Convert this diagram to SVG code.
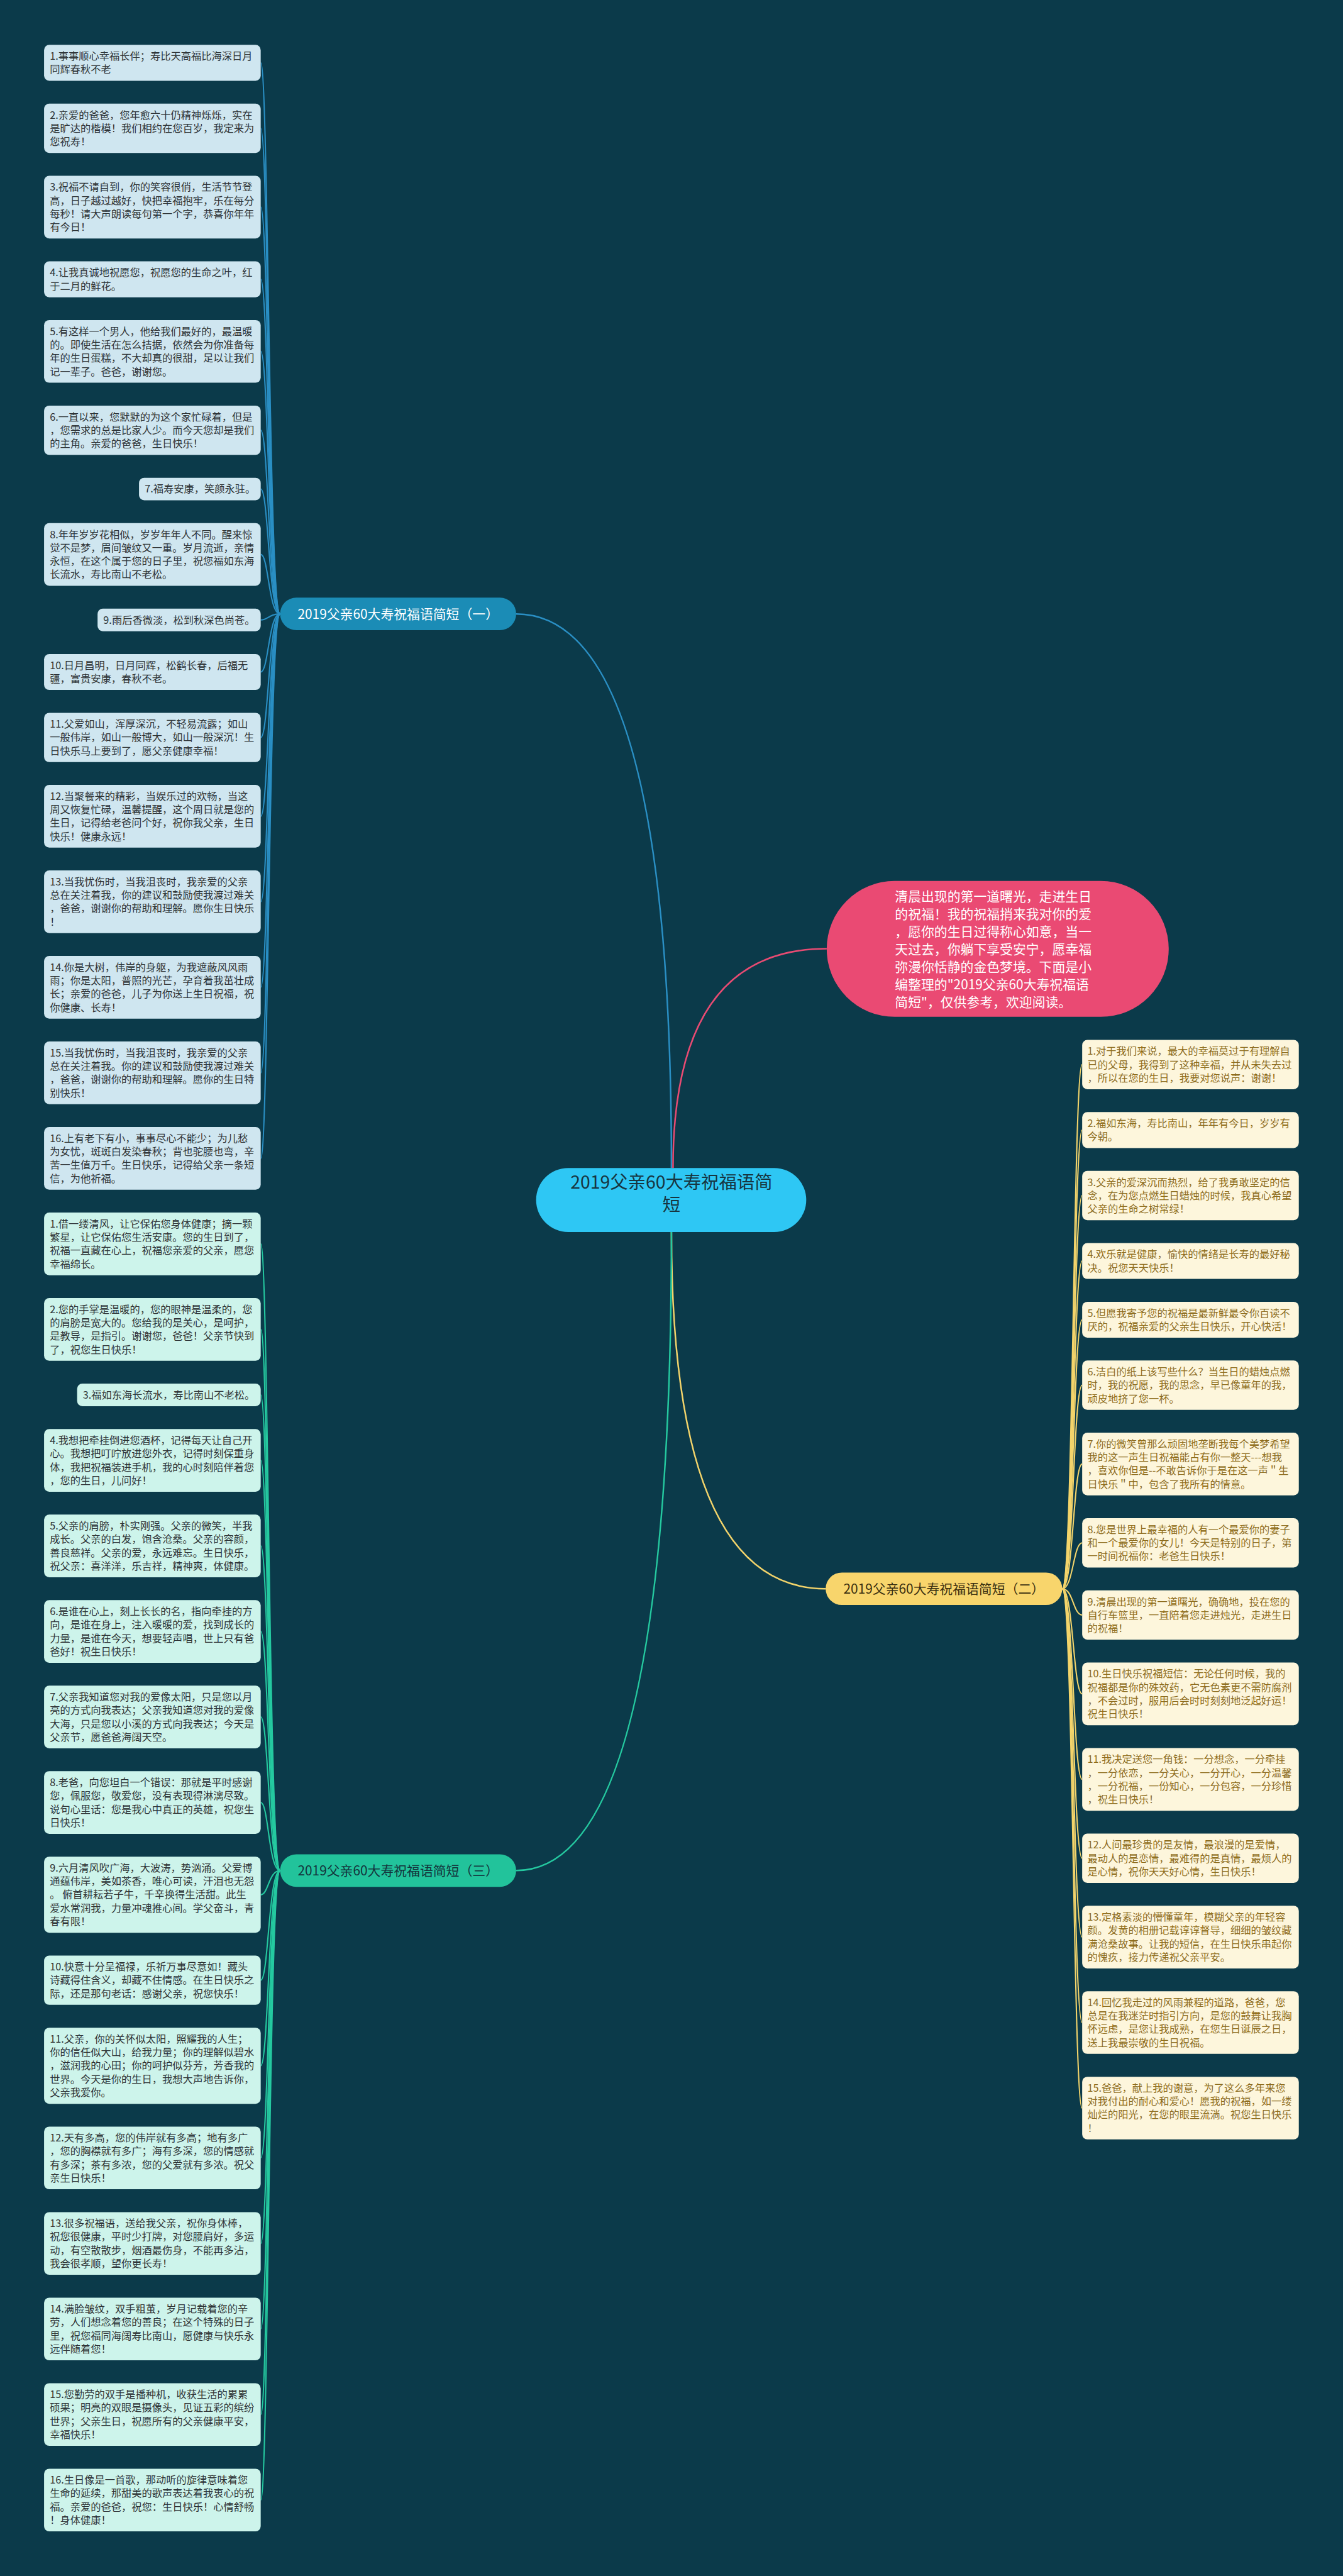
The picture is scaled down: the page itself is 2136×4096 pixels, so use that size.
<svg xmlns="http://www.w3.org/2000/svg" width="2136" height="4096" viewBox="0 0 2136 4096">
<style>
.t{font-family:"Noto Sans CJK SC","Noto Sans",sans-serif;font-size:19.5px}
.t1{fill:#2e3336}.t2{fill:#8d6c1c}.t3{fill:#2e3336}
.lf1{fill:#cfe6f0}.lf2{fill:#fdf6dc}.lf3{fill:#cdf4eb}
.c1{fill:none;stroke:#2a8fc4;stroke-width:2.5}
.c2{fill:none;stroke:#f3d46b;stroke-width:2.5}
.c3{fill:none;stroke:#25c9a0;stroke-width:2.5}
.br{font-family:"Noto Sans CJK SC","Noto Sans",sans-serif;font-size:25px;text-anchor:middle}
</style>
<rect width="2136" height="4096" fill="#0b3a4a"/>
<g transform="scale(0.8343)">
<g id="connectors">
<path d="M1280 2226 Q1280 1170 984 1170" fill="none" stroke="#2a8fc4" stroke-width="3"/>
<path d="M1283 2226 Q1283 1808 1576 1808" fill="none" stroke="#e94b73" stroke-width="3"/>
<path d="M1280 2348 Q1280 3028 1574 3028" fill="none" stroke="#f3d46b" stroke-width="3"/>
<path d="M1280 2348 Q1280 3565 984 3565" fill="none" stroke="#25c9a0" stroke-width="3"/>
<path class="c1" d="M534 1170 C512 1170,512 119.75,497 119.75"/>
<path class="c1" d="M534 1170 C512 1170,512 244.5,497 244.5"/>
<path class="c1" d="M534 1170 C512 1170,512 394.75,497 394.75"/>
<path class="c1" d="M534 1170 C512 1170,512 532.25,497 532.25"/>
<path class="c1" d="M534 1170 C512 1170,512 669.75,497 669.75"/>
<path class="c1" d="M534 1170 C512 1170,512 820,497 820"/>
<path class="c1" d="M534 1170 C512 1170,512 932,497 932"/>
<path class="c1" d="M534 1170 C512 1170,512 1056.75,497 1056.75"/>
<path class="c1" d="M534 1170 C512 1170,512 1181.5,497 1181.5"/>
<path class="c1" d="M534 1170 C512 1170,512 1280.75,497 1280.75"/>
<path class="c1" d="M534 1170 C512 1170,512 1405.5,497 1405.5"/>
<path class="c1" d="M534 1170 C512 1170,512 1555.75,497 1555.75"/>
<path class="c1" d="M534 1170 C512 1170,512 1718.75,497 1718.75"/>
<path class="c1" d="M534 1170 C512 1170,512 1881.75,497 1881.75"/>
<path class="c1" d="M534 1170 C512 1170,512 2044.75,497 2044.75"/>
<path class="c1" d="M534 1170 C512 1170,512 2207.75,497 2207.75"/>
<path class="c3" d="M534 3565 C512 3565,512 2370.75,497 2370.75"/>
<path class="c3" d="M534 3565 C512 3565,512 2533.75,497 2533.75"/>
<path class="c3" d="M534 3565 C512 3565,512 2658.5,497 2658.5"/>
<path class="c3" d="M534 3565 C512 3565,512 2783.25,497 2783.25"/>
<path class="c3" d="M534 3565 C512 3565,512 2946.25,497 2946.25"/>
<path class="c3" d="M534 3565 C512 3565,512 3109.25,497 3109.25"/>
<path class="c3" d="M534 3565 C512 3565,512 3272.25,497 3272.25"/>
<path class="c3" d="M534 3565 C512 3565,512 3435.25,497 3435.25"/>
<path class="c3" d="M534 3565 C512 3565,512 3611,497 3611"/>
<path class="c3" d="M534 3565 C512 3565,512 3774,497 3774"/>
<path class="c3" d="M534 3565 C512 3565,512 3937,497 3937"/>
<path class="c3" d="M534 3565 C512 3565,512 4112.75,497 4112.75"/>
<path class="c3" d="M534 3565 C512 3565,512 4275.75,497 4275.75"/>
<path class="c3" d="M534 3565 C512 3565,512 4438.75,497 4438.75"/>
<path class="c3" d="M534 3565 C512 3565,512 4601.75,497 4601.75"/>
<path class="c3" d="M534 3565 C512 3565,512 4764.75,497 4764.75"/>
<path class="c2" d="M2025 3028 C2046 3028,2046 2029,2063 2029"/>
<path class="c2" d="M2025 3028 C2046 3028,2046 2153.75,2063 2153.75"/>
<path class="c2" d="M2025 3028 C2046 3028,2046 2278.5,2063 2278.5"/>
<path class="c2" d="M2025 3028 C2046 3028,2046 2403.25,2063 2403.25"/>
<path class="c2" d="M2025 3028 C2046 3028,2046 2515.25,2063 2515.25"/>
<path class="c2" d="M2025 3028 C2046 3028,2046 2640,2063 2640"/>
<path class="c2" d="M2025 3028 C2046 3028,2046 2790.25,2063 2790.25"/>
<path class="c2" d="M2025 3028 C2046 3028,2046 2940.5,2063 2940.5"/>
<path class="c2" d="M2025 3028 C2046 3028,2046 3078,2063 3078"/>
<path class="c2" d="M2025 3028 C2046 3028,2046 3228.25,2063 3228.25"/>
<path class="c2" d="M2025 3028 C2046 3028,2046 3391.25,2063 3391.25"/>
<path class="c2" d="M2025 3028 C2046 3028,2046 3541.5,2063 3541.5"/>
<path class="c2" d="M2025 3028 C2046 3028,2046 3691.75,2063 3691.75"/>
<path class="c2" d="M2025 3028 C2046 3028,2046 3854.75,2063 3854.75"/>
<path class="c2" d="M2025 3028 C2046 3028,2046 4017.75,2063 4017.75"/>
</g>

<g id="center"><rect x="1022" y="2226" width="515" height="122" rx="61" fill="#2ec7f4"/><text x="1280" y="2265" font-family="Noto Sans CJK SC, Noto Sans, sans-serif" font-size="34" fill="#173540" text-anchor="middle"><tspan x="1280">2019父亲60大寿祝福语简</tspan><tspan x="1280" dy="43">短</tspan></text></g>

<g id="intro"><rect x="1576" y="1679" width="652" height="259" rx="129.5" fill="#ea4a73"/><text class="t" x="1706" y="1718" fill="#ffffff" style="font-size:25px"><tspan x="1706">清晨出现的第一道曙光，走进生日</tspan><tspan x="1706" dy="33.5">的祝福！我的祝福捎来我对你的爱</tspan><tspan x="1706" dy="33.5">，愿你的生日过得称心如意，当一</tspan><tspan x="1706" dy="33.5">天过去，你躺下享受安宁，愿幸福</tspan><tspan x="1706" dy="33.5">弥漫你恬静的金色梦境。下面是小</tspan><tspan x="1706" dy="33.5">编整理的"2019父亲60大寿祝福语</tspan><tspan x="1706" dy="33.5">简短"，仅供参考，欢迎阅读。</tspan></text></g>

<g id="branch1"><rect x="534" y="1139" width="450" height="62" rx="31" fill="#1b8cb6"/><text class="br" x="759" y="1179" fill="#ffffff">2019父亲60大寿祝福语简短（一）</text></g>
<g id="branch2"><rect x="1574" y="2997" width="451" height="62" rx="31" fill="#f8d56c"/><text class="br" x="1799.5" y="3037" fill="#3a2f10">2019父亲60大寿祝福语简短（二）</text></g>
<g id="branch3"><rect x="534" y="3534" width="450" height="62" rx="31" fill="#22c39b"/><text class="br" x="759" y="3574" fill="#13343c">2019父亲60大寿祝福语简短（三）</text></g>

<g id="l1-1"><rect class="lf1" x="84" y="85.5" width="413" height="68.5" rx="10"/><text class="t t1" x="95" y="114"><tspan x="95">1.事事顺心幸福长伴；寿比天高福比海深日月</tspan><tspan x="95" dy="25.5">同辉春秋不老</tspan></text></g>
<g id="l1-2"><rect class="lf1" x="84" y="197.5" width="413" height="94" rx="10"/><text class="t t1" x="95" y="226"><tspan x="95">2.亲爱的爸爸，您年愈六十仍精神烁烁，实在</tspan><tspan x="95" dy="25.5">是旷达的楷模！我们相约在您百岁，我定来为</tspan><tspan x="95" dy="25.5">您祝寿！</tspan></text></g>
<g id="l1-3"><rect class="lf1" x="84" y="335" width="413" height="119.5" rx="10"/><text class="t t1" x="95" y="363.5"><tspan x="95">3.祝福不请自到，你的笑容很俏，生活节节登</tspan><tspan x="95" dy="25.5">高，日子越过越好，快把幸福抱牢，乐在每分</tspan><tspan x="95" dy="25.5">每秒！请大声朗读每句第一个字，恭喜你年年</tspan><tspan x="95" dy="25.5">有今日！</tspan></text></g>
<g id="l1-4"><rect class="lf1" x="84" y="498" width="413" height="68.5" rx="10"/><text class="t t1" x="95" y="526.5"><tspan x="95">4.让我真诚地祝愿您，祝愿您的生命之叶，红</tspan><tspan x="95" dy="25.5">于二月的鲜花。</tspan></text></g>
<g id="l1-5"><rect class="lf1" x="84" y="610" width="413" height="119.5" rx="10"/><text class="t t1" x="95" y="638.5"><tspan x="95">5.有这样一个男人，他给我们最好的，最温暖</tspan><tspan x="95" dy="25.5">的。即使生活在怎么拮据，依然会为你准备每</tspan><tspan x="95" dy="25.5">年的生日蛋糕，不大却真的很甜，足以让我们</tspan><tspan x="95" dy="25.5">记一辈子。爸爸，谢谢您。</tspan></text></g>
<g id="l1-6"><rect class="lf1" x="84" y="773" width="413" height="94" rx="10"/><text class="t t1" x="95" y="801.5"><tspan x="95">6.一直以来，您默默的为这个家忙碌着，但是</tspan><tspan x="95" dy="25.5">，您需求的总是比家人少。而今天您却是我们</tspan><tspan x="95" dy="25.5">的主角。亲爱的爸爸，生日快乐！</tspan></text></g>
<g id="l1-7"><rect class="lf1" x="265" y="910.5" width="232" height="43" rx="10"/><text class="t t1" x="276" y="939">7.福寿安康，笑颜永驻。</text></g>
<g id="l1-8"><rect class="lf1" x="84" y="997" width="413" height="119.5" rx="10"/><text class="t t1" x="95" y="1025.5"><tspan x="95">8.年年岁岁花相似，岁岁年年人不同。醒来惊</tspan><tspan x="95" dy="25.5">觉不是梦，眉间皱纹又一重。岁月流逝，亲情</tspan><tspan x="95" dy="25.5">永恒，在这个属于您的日子里，祝您福如东海</tspan><tspan x="95" dy="25.5">长流水，寿比南山不老松。</tspan></text></g>
<g id="l1-9"><rect class="lf1" x="186" y="1160" width="311" height="43" rx="10"/><text class="t t1" x="197" y="1188.5">9.雨后香微淡，松到秋深色尚苍。</text></g>
<g id="l1-10"><rect class="lf1" x="84" y="1246.5" width="413" height="68.5" rx="10"/><text class="t t1" x="95" y="1275"><tspan x="95">10.日月昌明，日月同辉，松鹤长春，后福无</tspan><tspan x="95" dy="25.5">疆，富贵安康，春秋不老。</tspan></text></g>
<g id="l1-11"><rect class="lf1" x="84" y="1358.5" width="413" height="94" rx="10"/><text class="t t1" x="95" y="1387"><tspan x="95">11.父爱如山，浑厚深沉，不轻易流露；如山</tspan><tspan x="95" dy="25.5">一般伟岸，如山一般博大，如山一般深沉！生</tspan><tspan x="95" dy="25.5">日快乐马上要到了，愿父亲健康幸福！</tspan></text></g>
<g id="l1-12"><rect class="lf1" x="84" y="1496" width="413" height="119.5" rx="10"/><text class="t t1" x="95" y="1524.5"><tspan x="95">12.当聚餐来的精彩，当娱乐过的欢畅，当这</tspan><tspan x="95" dy="25.5">周又恢复忙碌，温馨提醒，这个周日就是您的</tspan><tspan x="95" dy="25.5">生日，记得给老爸问个好，祝你我父亲，生日</tspan><tspan x="95" dy="25.5">快乐！健康永远！</tspan></text></g>
<g id="l1-13"><rect class="lf1" x="84" y="1659" width="413" height="119.5" rx="10"/><text class="t t1" x="95" y="1687.5"><tspan x="95">13.当我忧伤时，当我沮丧时，我亲爱的父亲</tspan><tspan x="95" dy="25.5">总在关注着我，你的建议和鼓励使我渡过难关</tspan><tspan x="95" dy="25.5">，爸爸，谢谢你的帮助和理解。愿你生日快乐</tspan><tspan x="95" dy="25.5">！</tspan></text></g>
<g id="l1-14"><rect class="lf1" x="84" y="1822" width="413" height="119.5" rx="10"/><text class="t t1" x="95" y="1850.5"><tspan x="95">14.你是大树，伟岸的身躯，为我遮蔽风风雨</tspan><tspan x="95" dy="25.5">雨；你是太阳，普照的光芒，孕育着我茁壮成</tspan><tspan x="95" dy="25.5">长；亲爱的爸爸，儿子为你送上生日祝福，祝</tspan><tspan x="95" dy="25.5">你健康、长寿！</tspan></text></g>
<g id="l1-15"><rect class="lf1" x="84" y="1985" width="413" height="119.5" rx="10"/><text class="t t1" x="95" y="2013.5"><tspan x="95">15.当我忧伤时，当我沮丧时，我亲爱的父亲</tspan><tspan x="95" dy="25.5">总在关注着我。你的建议和鼓励使我渡过难关</tspan><tspan x="95" dy="25.5">，爸爸，谢谢你的帮助和理解。愿你的生日特</tspan><tspan x="95" dy="25.5">别快乐！</tspan></text></g>
<g id="l1-16"><rect class="lf1" x="84" y="2148" width="413" height="119.5" rx="10"/><text class="t t1" x="95" y="2176.5"><tspan x="95">16.上有老下有小，事事尽心不能少；为儿愁</tspan><tspan x="95" dy="25.5">为女忧，斑斑白发染春秋；背也驼腰也弯，辛</tspan><tspan x="95" dy="25.5">苦一生值万千。生日快乐，记得给父亲一条短</tspan><tspan x="95" dy="25.5">信，为他祈福。</tspan></text></g>

<g id="l3-1"><rect class="lf3" x="84" y="2311" width="413" height="119.5" rx="10"/><text class="t t3" x="95" y="2339.5"><tspan x="95">1.借一缕清风，让它保佑您身体健康；摘一颗</tspan><tspan x="95" dy="25.5">繁星，让它保佑您生活安康。您的生日到了，</tspan><tspan x="95" dy="25.5">祝福一直藏在心上，祝福您亲爱的父亲，愿您</tspan><tspan x="95" dy="25.5">幸福绵长。</tspan></text></g>
<g id="l3-2"><rect class="lf3" x="84" y="2474" width="413" height="119.5" rx="10"/><text class="t t3" x="95" y="2502.5"><tspan x="95">2.您的手掌是温暖的，您的眼神是温柔的，您</tspan><tspan x="95" dy="25.5">的肩膀是宽大的。您给我的是关心，是呵护，</tspan><tspan x="95" dy="25.5">是教导，是指引。谢谢您，爸爸！父亲节快到</tspan><tspan x="95" dy="25.5">了，祝您生日快乐！</tspan></text></g>
<g id="l3-3"><rect class="lf3" x="147" y="2637" width="350" height="43" rx="10"/><text class="t t3" x="158" y="2665.5">3.福如东海长流水，寿比南山不老松。</text></g>
<g id="l3-4"><rect class="lf3" x="84" y="2723.5" width="413" height="119.5" rx="10"/><text class="t t3" x="95" y="2752"><tspan x="95">4.我想把牵挂倒进您酒杯，记得每天让自己开</tspan><tspan x="95" dy="25.5">心。我想把叮咛放进您外衣，记得时刻保重身</tspan><tspan x="95" dy="25.5">体，我把祝福装进手机，我的心时刻陪伴着您</tspan><tspan x="95" dy="25.5">，您的生日，儿问好！</tspan></text></g>
<g id="l3-5"><rect class="lf3" x="84" y="2886.5" width="413" height="119.5" rx="10"/><text class="t t3" x="95" y="2915"><tspan x="95">5.父亲的肩膀，朴实刚强。父亲的微笑，半我</tspan><tspan x="95" dy="25.5">成长。父亲的白发，饱含沧桑。父亲的容颜，</tspan><tspan x="95" dy="25.5">善良慈祥。父亲的爱，永远难忘。生日快乐，</tspan><tspan x="95" dy="25.5">祝父亲：喜洋洋，乐吉祥，精神爽，体健康。</tspan></text></g>
<g id="l3-6"><rect class="lf3" x="84" y="3049.5" width="413" height="119.5" rx="10"/><text class="t t3" x="95" y="3078"><tspan x="95">6.是谁在心上，刻上长长的名，指向牵挂的方</tspan><tspan x="95" dy="25.5">向，是谁在身上，注入暖暖的爱，找到成长的</tspan><tspan x="95" dy="25.5">力量，是谁在今天，想要轻声唱，世上只有爸</tspan><tspan x="95" dy="25.5">爸好！祝生日快乐！</tspan></text></g>
<g id="l3-7"><rect class="lf3" x="84" y="3212.5" width="413" height="119.5" rx="10"/><text class="t t3" x="95" y="3241"><tspan x="95">7.父亲我知道您对我的爱像太阳，只是您以月</tspan><tspan x="95" dy="25.5">亮的方式向我表达；父亲我知道您对我的爱像</tspan><tspan x="95" dy="25.5">大海，只是您以小溪的方式向我表达；今天是</tspan><tspan x="95" dy="25.5">父亲节，愿爸爸海阔天空。</tspan></text></g>
<g id="l3-8"><rect class="lf3" x="84" y="3375.5" width="413" height="119.5" rx="10"/><text class="t t3" x="95" y="3404"><tspan x="95">8.老爸，向您坦白一个错误：那就是平时感谢</tspan><tspan x="95" dy="25.5">您，佩服您，敬爱您，没有表现得淋漓尽致。</tspan><tspan x="95" dy="25.5">说句心里话：您是我心中真正的英雄，祝您生</tspan><tspan x="95" dy="25.5">日快乐！</tspan></text></g>
<g id="l3-9"><rect class="lf3" x="84" y="3538.5" width="413" height="145" rx="10"/><text class="t t3" x="95" y="3567"><tspan x="95">9.六月清风吹广海，大波涛，势汹涌。父爱博</tspan><tspan x="95" dy="25.5">通蕴伟岸，美如茶香，唯心可读，汗泪也无怨</tspan><tspan x="95" dy="25.5">。 俯首耕耘若子牛，千辛换得生活甜。此生</tspan><tspan x="95" dy="25.5">爱水常润我，力量冲魂推心间。学父奋斗，青</tspan><tspan x="95" dy="25.5">春有限！</tspan></text></g>
<g id="l3-10"><rect class="lf3" x="84" y="3727" width="413" height="94" rx="10"/><text class="t t3" x="95" y="3755.5"><tspan x="95">10.快意十分呈福禄，乐祈万事尽意如！藏头</tspan><tspan x="95" dy="25.5">诗藏得住含义，却藏不住情感。在生日快乐之</tspan><tspan x="95" dy="25.5">际，还是那句老话：感谢父亲，祝您快乐！</tspan></text></g>
<g id="l3-11"><rect class="lf3" x="84" y="3864.5" width="413" height="145" rx="10"/><text class="t t3" x="95" y="3893"><tspan x="95">11.父亲，你的关怀似太阳，照耀我的人生；</tspan><tspan x="95" dy="25.5">你的信任似大山，给我力量；你的理解似碧水</tspan><tspan x="95" dy="25.5">，滋润我的心田；你的呵护似芬芳，芳香我的</tspan><tspan x="95" dy="25.5">世界。今天是你的生日，我想大声地告诉你，</tspan><tspan x="95" dy="25.5">父亲我爱你。</tspan></text></g>
<g id="l3-12"><rect class="lf3" x="84" y="4053" width="413" height="119.5" rx="10"/><text class="t t3" x="95" y="4081.5"><tspan x="95">12.天有多高，您的伟岸就有多高；地有多广</tspan><tspan x="95" dy="25.5">，您的胸襟就有多广；海有多深，您的情感就</tspan><tspan x="95" dy="25.5">有多深；茶有多浓，您的父爱就有多浓。祝父</tspan><tspan x="95" dy="25.5">亲生日快乐！</tspan></text></g>
<g id="l3-13"><rect class="lf3" x="84" y="4216" width="413" height="119.5" rx="10"/><text class="t t3" x="95" y="4244.5"><tspan x="95">13.很多祝福语，送给我父亲，祝你身体棒，</tspan><tspan x="95" dy="25.5">祝您很健康，平时少打牌，对您腰肩好，多运</tspan><tspan x="95" dy="25.5">动，有空散散步，烟酒最伤身，不能再多沾，</tspan><tspan x="95" dy="25.5">我会很孝顺，望你更长寿！</tspan></text></g>
<g id="l3-14"><rect class="lf3" x="84" y="4379" width="413" height="119.5" rx="10"/><text class="t t3" x="95" y="4407.5"><tspan x="95">14.满脸皱纹，双手粗茧，岁月记载着您的辛</tspan><tspan x="95" dy="25.5">劳，人们想念着您的善良；在这个特殊的日子</tspan><tspan x="95" dy="25.5">里，祝您福同海阔寿比南山，愿健康与快乐永</tspan><tspan x="95" dy="25.5">远伴随着您！</tspan></text></g>
<g id="l3-15"><rect class="lf3" x="84" y="4542" width="413" height="119.5" rx="10"/><text class="t t3" x="95" y="4570.5"><tspan x="95">15.您勤劳的双手是播种机，收获生活的累累</tspan><tspan x="95" dy="25.5">硕果；明亮的双眼是摄像头，见证五彩的缤纷</tspan><tspan x="95" dy="25.5">世界；父亲生日，祝愿所有的父亲健康平安，</tspan><tspan x="95" dy="25.5">幸福快乐！</tspan></text></g>
<g id="l3-16"><rect class="lf3" x="84" y="4705" width="413" height="119.5" rx="10"/><text class="t t3" x="95" y="4733.5"><tspan x="95">16.生日像是一首歌，那动听的旋律意味着您</tspan><tspan x="95" dy="25.5">生命的延续，那甜美的歌声表达着我衷心的祝</tspan><tspan x="95" dy="25.5">福。亲爱的爸爸，祝您：生日快乐！心情舒畅</tspan><tspan x="95" dy="25.5">！身体健康！</tspan></text></g>

<g id="r-1"><rect class="lf2" x="2063" y="1982" width="413" height="94" rx="10"/><text class="t t2" x="2073" y="2010.5"><tspan x="2073">1.对于我们来说，最大的幸福莫过于有理解自</tspan><tspan x="2073" dy="25.5">已的父母，我得到了这种幸福，并从未失去过</tspan><tspan x="2073" dy="25.5">，所以在您的生日，我要对您说声：谢谢！</tspan></text></g>
<g id="r-2"><rect class="lf2" x="2063" y="2119.5" width="413" height="68.5" rx="10"/><text class="t t2" x="2073" y="2148"><tspan x="2073">2.福如东海，寿比南山，年年有今日，岁岁有</tspan><tspan x="2073" dy="25.5">今朝。</tspan></text></g>
<g id="r-3"><rect class="lf2" x="2063" y="2231.5" width="413" height="94" rx="10"/><text class="t t2" x="2073" y="2260"><tspan x="2073">3.父亲的爱深沉而热烈，给了我勇敢坚定的信</tspan><tspan x="2073" dy="25.5">念，在为您点燃生日蜡烛的时候，我真心希望</tspan><tspan x="2073" dy="25.5">父亲的生命之树常绿！</tspan></text></g>
<g id="r-4"><rect class="lf2" x="2063" y="2369" width="413" height="68.5" rx="10"/><text class="t t2" x="2073" y="2397.5"><tspan x="2073">4.欢乐就是健康，愉快的情绪是长寿的最好秘</tspan><tspan x="2073" dy="25.5">决。祝您天天快乐！</tspan></text></g>
<g id="r-5"><rect class="lf2" x="2063" y="2481" width="413" height="68.5" rx="10"/><text class="t t2" x="2073" y="2509.5"><tspan x="2073">5.但愿我寄予您的祝福是最新鲜最令你百读不</tspan><tspan x="2073" dy="25.5">厌的，祝福亲爱的父亲生日快乐，开心快活！</tspan></text></g>
<g id="r-6"><rect class="lf2" x="2063" y="2593" width="413" height="94" rx="10"/><text class="t t2" x="2073" y="2621.5"><tspan x="2073">6.洁白的纸上该写些什么？当生日的蜡烛点燃</tspan><tspan x="2073" dy="25.5">时，我的祝愿，我的思念，早已像童年的我，</tspan><tspan x="2073" dy="25.5">顽皮地挤了您一杯。</tspan></text></g>
<g id="r-7"><rect class="lf2" x="2063" y="2730.5" width="413" height="119.5" rx="10"/><text class="t t2" x="2073" y="2759"><tspan x="2073">7.你的微笑曾那么顽固地垄断我每个美梦希望</tspan><tspan x="2073" dy="25.5">我的这一声生日祝福能占有你一整天---想我</tspan><tspan x="2073" dy="25.5">，喜欢你但是--不敢告诉你于是在这一声＂生</tspan><tspan x="2073" dy="25.5">日快乐＂中，包含了我所有的情意。</tspan></text></g>
<g id="r-8"><rect class="lf2" x="2063" y="2893.5" width="413" height="94" rx="10"/><text class="t t2" x="2073" y="2922"><tspan x="2073">8.您是世界上最幸福的人有一个最爱你的妻子</tspan><tspan x="2073" dy="25.5">和一个最爱你的女儿！今天是特别的日子，第</tspan><tspan x="2073" dy="25.5">一时间祝福你：老爸生日快乐！</tspan></text></g>
<g id="r-9"><rect class="lf2" x="2063" y="3031" width="413" height="94" rx="10"/><text class="t t2" x="2073" y="3059.5"><tspan x="2073">9.清晨出现的第一道曙光，确确地，投在您的</tspan><tspan x="2073" dy="25.5">自行车篮里，一直陪着您走进烛光，走进生日</tspan><tspan x="2073" dy="25.5">的祝福！</tspan></text></g>
<g id="r-10"><rect class="lf2" x="2063" y="3168.5" width="413" height="119.5" rx="10"/><text class="t t2" x="2073" y="3197"><tspan x="2073">10.生日快乐祝福短信：无论任何时候，我的</tspan><tspan x="2073" dy="25.5">祝福都是你的殊效药，它无色素更不需防腐剂</tspan><tspan x="2073" dy="25.5">，不会过时，服用后会时时刻刻地泛起好运！</tspan><tspan x="2073" dy="25.5">祝生日快乐！</tspan></text></g>
<g id="r-11"><rect class="lf2" x="2063" y="3331.5" width="413" height="119.5" rx="10"/><text class="t t2" x="2073" y="3360"><tspan x="2073">11.我决定送您一角钱：一分想念，一分牵挂</tspan><tspan x="2073" dy="25.5">，一分依恋，一分关心，一分开心，一分温馨</tspan><tspan x="2073" dy="25.5">，一分祝福，一份知心，一分包容，一分珍惜</tspan><tspan x="2073" dy="25.5">，祝生日快乐！</tspan></text></g>
<g id="r-12"><rect class="lf2" x="2063" y="3494.5" width="413" height="94" rx="10"/><text class="t t2" x="2073" y="3523"><tspan x="2073">12.人间最珍贵的是友情，最浪漫的是爱情，</tspan><tspan x="2073" dy="25.5">最动人的是恋情，最难得的是真情，最烦人的</tspan><tspan x="2073" dy="25.5">是心情，祝你天天好心情，生日快乐！</tspan></text></g>
<g id="r-13"><rect class="lf2" x="2063" y="3632" width="413" height="119.5" rx="10"/><text class="t t2" x="2073" y="3660.5"><tspan x="2073">13.定格素淡的懵懂童年，模糊父亲的年轻容</tspan><tspan x="2073" dy="25.5">颜。发黄的相册记载谆谆督导，细细的皱纹藏</tspan><tspan x="2073" dy="25.5">满沧桑故事。让我的短信，在生日快乐串起你</tspan><tspan x="2073" dy="25.5">的愧疚，接力传递祝父亲平安。</tspan></text></g>
<g id="r-14"><rect class="lf2" x="2063" y="3795" width="413" height="119.5" rx="10"/><text class="t t2" x="2073" y="3823.5"><tspan x="2073">14.回忆我走过的风雨兼程的道路，爸爸，您</tspan><tspan x="2073" dy="25.5">总是在我迷茫时指引方向，是您的鼓舞让我胸</tspan><tspan x="2073" dy="25.5">怀远虑，是您让我成熟，在您生日诞辰之日，</tspan><tspan x="2073" dy="25.5">送上我最崇敬的生日祝福。</tspan></text></g>
<g id="r-15"><rect class="lf2" x="2063" y="3958" width="413" height="119.5" rx="10"/><text class="t t2" x="2073" y="3986.5"><tspan x="2073">15.爸爸，献上我的谢意，为了这么多年来您</tspan><tspan x="2073" dy="25.5">对我付出的耐心和爱心！愿我的祝福，如一缕</tspan><tspan x="2073" dy="25.5">灿烂的阳光，在您的眼里流淌。祝您生日快乐</tspan><tspan x="2073" dy="25.5">！</tspan></text></g>
</g>
</svg>
